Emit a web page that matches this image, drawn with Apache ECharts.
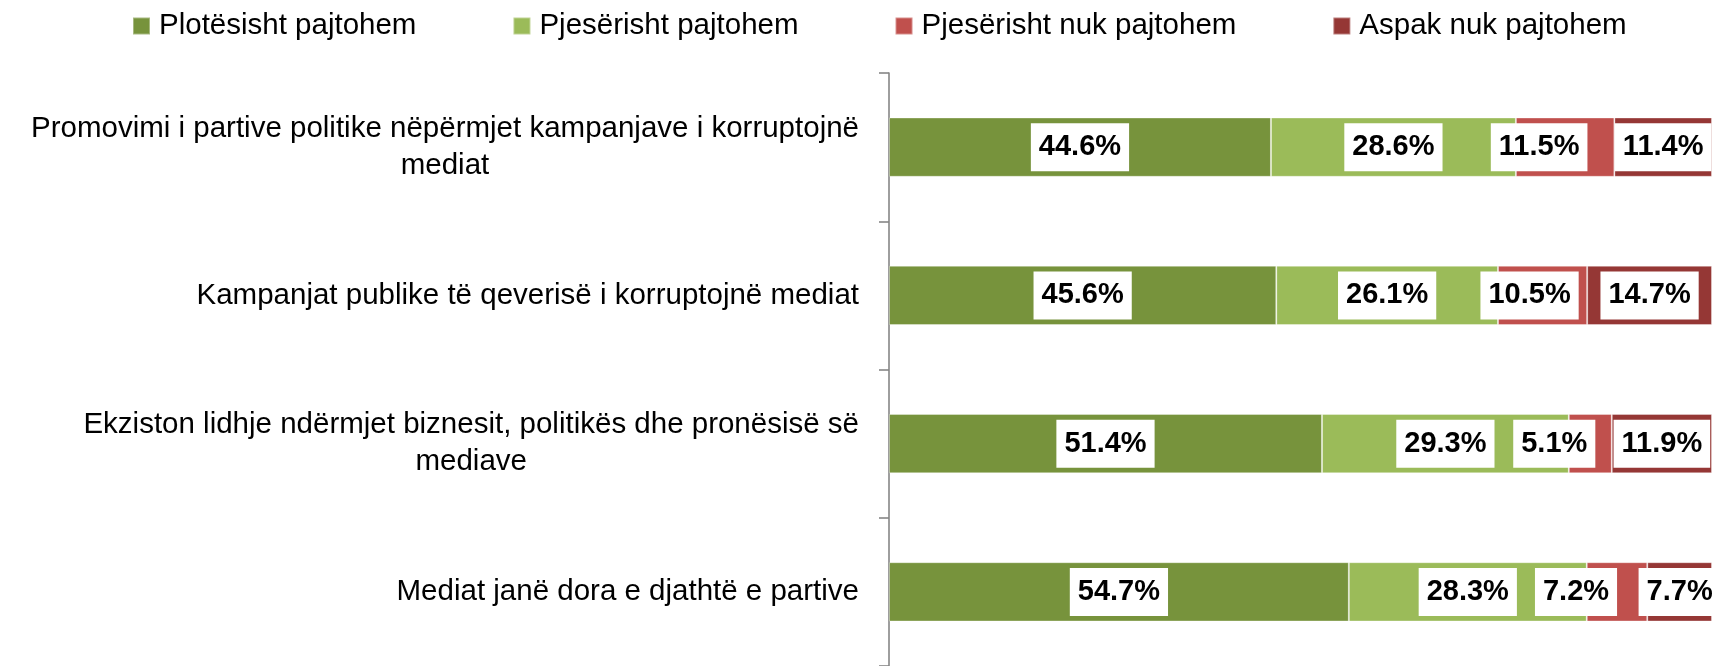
<!DOCTYPE html>
<html>
<head>
<meta charset="utf-8">
<script src="https://cdn.jsdelivr.net/npm/echarts@6/dist/echarts.min.js"></script>
<style>
  html, body { margin: 0; padding: 0; background: #fff; }
  #chart { width: 1713px; height: 666px; }
</style>
</head>
<body>
<div id="chart"></div>
<script>
// ---- Data ----
const categories = [
  "Promovimi i partive politike nëpërmjet kampanjave i korruptojnë\nmediat",
  "Kampanjat publike të qeverisë i korruptojnë mediat",
  "Ekziston lidhje ndërmjet biznesit, politikës dhe pronësisë së\nmediave",
  "Mediat janë dora e djathtë e partive"
];
const seriesNames = ["Plotësisht pajtohem", "Pjesërisht pajtohem", "Pjesërisht nuk pajtohem", "Aspak nuk pajtohem"];
const plotesisht = [44.6, 45.6, 51.4, 54.7];
const pjeserisht = [28.6, 26.1, 29.3, 28.3];
const pjeserishtNuk = [11.5, 10.5, 5.1, 7.2];
const aspak = [11.4, 14.7, 11.9, 7.7];

// ---- Styles ----
const colors = ["#77933C", "#9BBB59", "#C0504D", "#953735"];
const redLabelShift = [-26, -13, -36, -41];
const FONT = "'Liberation Sans', Arial, sans-serif";

const allSeries = [plotesisht, pjeserisht, pjeserishtNuk, aspak];
// 100% stacked: each bar spans the full width
const totals = categories.map((_, i) => allSeries.reduce((s, arr) => s + arr[i], 0));

const series = allSeries.map((arr, si) => ({
  name: seriesNames[si],
  type: 'bar',
  stack: 'total',
  barCategoryGap: '60%',
  itemStyle: { color: colors[si], borderColor: 'rgba(255,255,255,0.35)', borderWidth: 1 },
  label: {
    show: true,
    position: 'inside',
    formatter: p => arr[p.dataIndex].toFixed(1) + '%',
    backgroundColor: '#ffffff',
    padding: [10, 8, 10, 8],
    color: '#000',
    fontWeight: 'bold',
    fontSize: 29,
    lineHeight: 28,
    fontFamily: FONT
  },
  data: arr.map((v, i) => {
    const d = { value: v / totals[i] * 100 };
    if (si === 2) d.label = { offset: [redLabelShift[i], 0] };
    return d;
  })
}));

const chart = echarts.init(document.getElementById('chart'), null, { renderer: 'canvas' });
chart.setOption({
  animation: false,
  color: colors,
  legend: {
    data: seriesNames,
    left: 127,
    top: 6,
    itemWidth: 17,
    itemHeight: 17,
    itemGap: 96,
    icon: 'rect',
    textStyle: { fontSize: 29.5, fontFamily: FONT, color: '#000', padding: [0, 0, 0, 4] }
  },
  grid: { left: 889, right: 1, top: 73, bottom: -3, containLabel: false },
  xAxis: { type: 'value', min: 0, max: 100, show: false },
  yAxis: {
    type: 'category',
    data: categories,
    inverse: true,
    axisLine: { show: true, lineStyle: { color: '#868686', width: 1.6 } },
    axisTick: { show: true, length: 10, lineStyle: { color: '#868686', width: 1.6 } },
    splitLine: { show: false },
    axisLabel: {
      margin: 30,
      align: 'right',
      formatter: v => v.split('\n').map(l => '{c|' + l + '}').join('\n'),
      rich: {
        c: { align: 'center', fontSize: 29.5, lineHeight: 37, fontFamily: FONT, color: '#000' }
      }
    }
  },
  series: series
});
</script>
</body>
</html>
